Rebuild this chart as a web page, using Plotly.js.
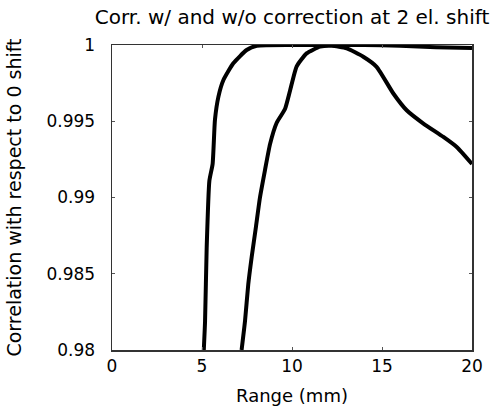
<!DOCTYPE html>
<html>
<head>
<meta charset="utf-8">
<script src="https://cdn.plot.ly/plotly-3.0.1.min.js"></script>
<style>html,body{margin:0;padding:0;background:#fff;}#chart{width:498px;height:417px;}</style>
</head>
<body>
<div id="chart"></div>
<script>
// With correction
const rangeWith = [5.1, 5.17, 5.26, 5.41, 5.59, 5.72, 5.91, 6.19, 6.74, 7.48, 8.04, 10, 12, 14, 16, 18, 20];
const corrWith  = [0.98, 0.9819, 0.9867, 0.9911, 0.9922, 0.9951, 0.9966, 0.9977, 0.9988, 0.99967, 0.99995, 1.0, 1.0, 1.0, 0.99995, 0.99985, 0.9998];
// Without correction
const rangeWithout = [7.2, 7.39, 7.57, 7.76, 8.0, 8.22, 8.5, 8.78, 9.15, 9.61, 9.89, 10.26, 10.81, 11.56, 12.2, 13.04, 13.96, 14.7, 15.63, 16.37, 17.3, 18.41, 19.15, 20];
const corrWithout  = [0.98, 0.9819, 0.9843, 0.9861, 0.9881, 0.9900, 0.9918, 0.9935, 0.9949, 0.9958, 0.9970, 0.9986, 0.99945, 0.99989, 0.99995, 0.99978, 0.99923, 0.99857, 0.99682, 0.99572, 0.99485, 0.99397, 0.99331, 0.9922];

const xTicks = [0, 5, 10, 15, 20];
const yTicks = [0.98, 0.985, 0.99, 0.995, 1];
const yTickText = ['0.98', '0.985', '0.99', '0.995', '1'];

const fam = 'DejaVu Sans, Liberation Sans, Arial, sans-serif';
const tickFont = {family: fam, color: '#000', size: 17};

const traces = [
  {x: rangeWith, y: corrWith, type: 'scatter', mode: 'lines', line: {color: '#000', width: 4, shape: 'spline', smoothing: 0.5}, hoverinfo: 'skip'},
  {x: rangeWithout, y: corrWithout, type: 'scatter', mode: 'lines', line: {color: '#000', width: 4, shape: 'spline', smoothing: 0.5}, hoverinfo: 'skip'}
];

const layout = {
  width: 498, height: 417,
  margin: {l: 112, r: 26, t: 45, b: 67},
  paper_bgcolor: '#fff', plot_bgcolor: '#fff',
  showlegend: false,
  font: tickFont,
  title: {text: 'Corr. w/ and w/o correction at 2 el. shift', font: {family: fam, size: 20, color: '#000'},
          x: 0.5, xref: 'paper', y: 0.96, yref: 'container', yanchor: 'middle'},
  xaxis: {range: [0, 20], tickvals: xTicks, ticktext: xTicks.map(String),
          showgrid: false, zeroline: false, showline: true, linecolor: '#333', linewidth: 1.5, mirror: 'ticks',
          ticks: 'inside', ticklen: 3, tickcolor: '#555', tickfont: tickFont,
          title: {text: 'Range (mm)', font: {family: fam, size: 18, color: '#000'}, standoff: 14}},
  yaxis: {range: [0.98, 1], tickvals: yTicks, ticktext: yTickText,
          showgrid: false, zeroline: false, showline: true, linecolor: '#333', linewidth: 1.5, mirror: 'ticks',
          ticks: 'inside', ticklen: 3, tickcolor: '#555', tickfont: tickFont, ticklabelstandoff: 12,
          title: {text: 'Correlation with respect to 0 shift', font: {family: fam, size: 19, color: '#000'}, standoff: 20}}
};

Plotly.newPlot('chart', traces, layout, {displayModeBar: false, staticPlot: true});
</script>
</body>
</html>
